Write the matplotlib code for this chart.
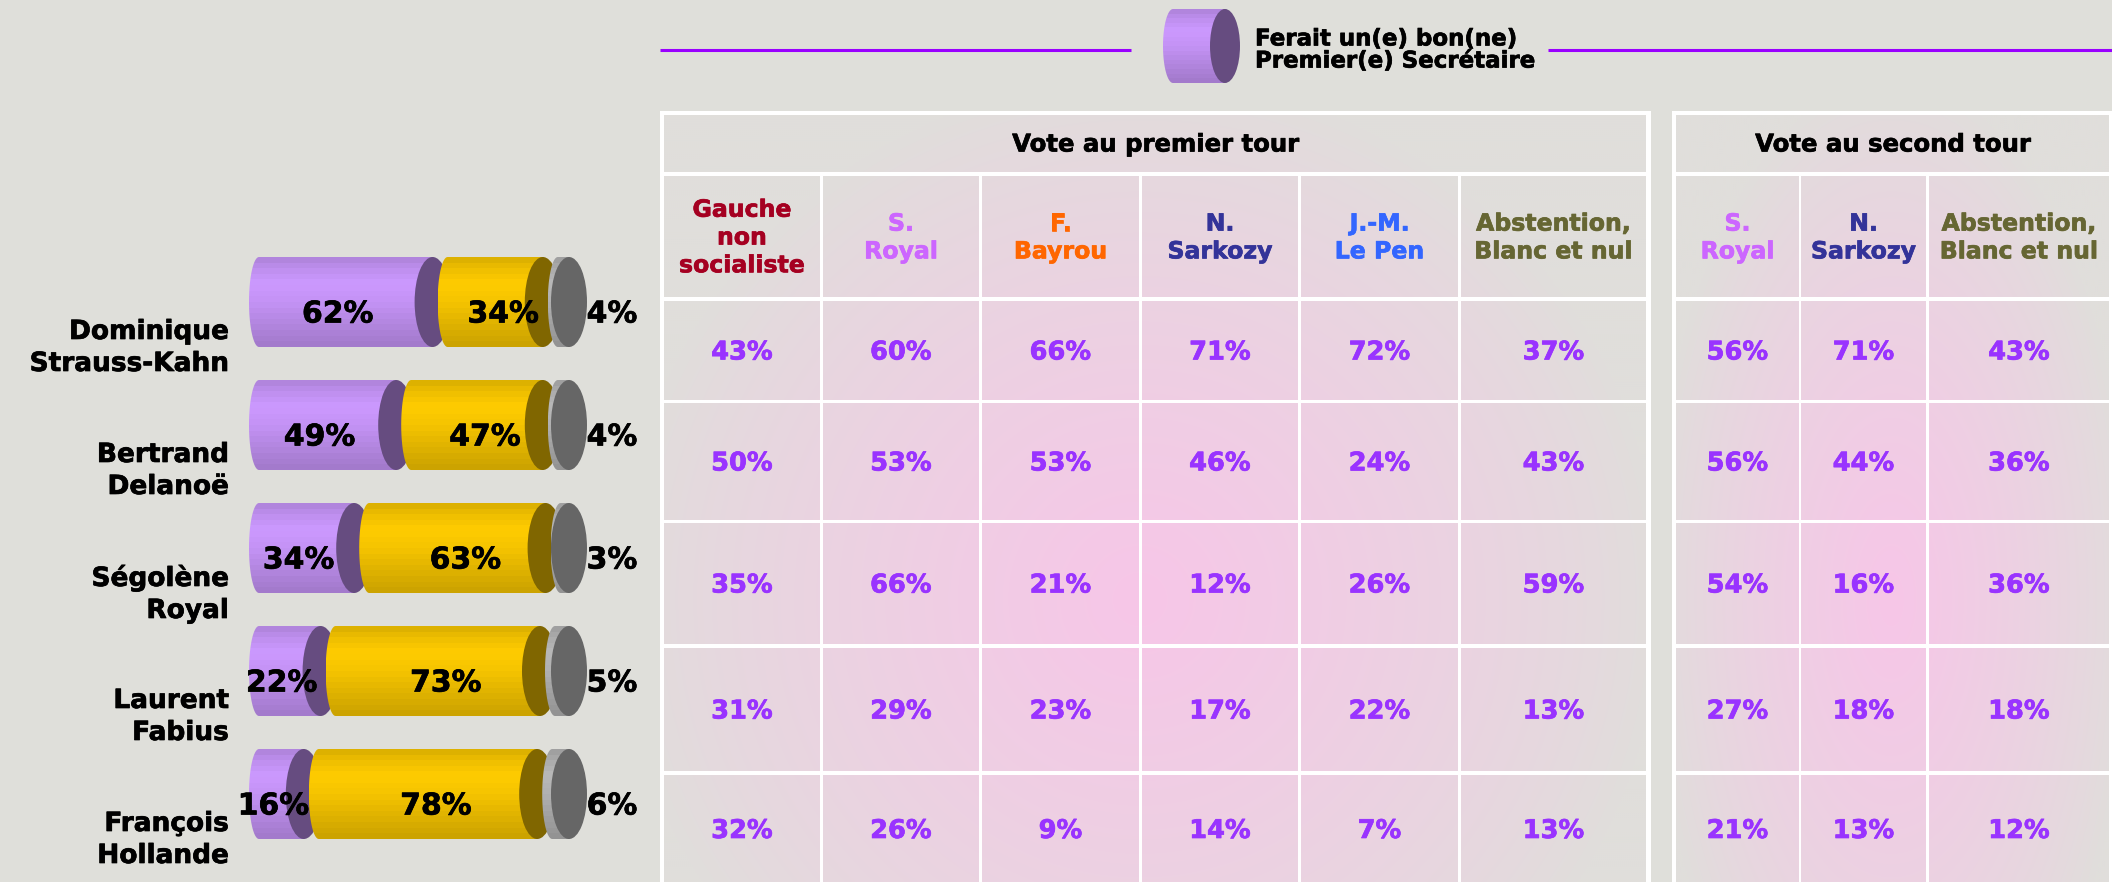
import matplotlib
matplotlib.use("Agg")
import matplotlib.pyplot as plt
import matplotlib.colors as mcolors
import matplotlib.patheffects as pe
import numpy as np
from matplotlib.patches import Ellipse, Rectangle, Polygon

# ---- data ----
names = ["Dominique\nStrauss-Kahn", "Bertrand\nDelanoë", "Ségolène\nRoyal",
         "Laurent\nFabius", "François\nHollande"]
bon = [62, 49, 34, 22, 16]        # ferait un(e) bon(ne) premier(e) secrétaire
pas_bon = [34, 47, 63, 73, 78]
nsp = [4, 4, 3, 5, 6]

legend_label = "Ferait un(e) bon(ne)\nPremier(e) Secrétaire"

tour1_title = "Vote au premier tour"
tour1_cols = ["Gauche\nnon\nsocialiste", "S.\nRoyal", "F.\nBayrou", "N.\nSarkozy",
              "J.-M.\nLe Pen", "Abstention,\nBlanc et nul"]
tour1_vals = [
    [43, 60, 66, 71, 72, 37],
    [50, 53, 53, 46, 24, 43],
    [35, 66, 21, 12, 26, 59],
    [31, 29, 23, 17, 22, 13],
    [32, 26, 9, 14, 7, 13],
]

tour2_title = "Vote au second tour"
tour2_cols = ["S.\nRoyal", "N.\nSarkozy", "Abstention,\nBlanc et nul"]
tour2_vals = [
    [56, 71, 43],
    [56, 44, 36],
    [54, 16, 36],
    [27, 18, 18],
    [21, 13, 12],
]

# ---- style ----
W, H = 2112, 882
BG = "#DFDFDA"
plt.rcParams['font.family'] = ['DejaVu Sans']
plt.rcParams['font.weight'] = 'bold'

col_colors1 = ["#A50021", "#CC66FF", "#FF6600", "#333399", "#3366FF", "#666633"]
col_colors2 = ["#CC66FF", "#333399", "#666633"]
VAL_COLOR = "#9933FF"

seg_body = ["#CC99FF", "#FFCC00", "#B8B8B8"]
seg_cap = ["#664C80", "#806600", "#666666"]

# table layout (pixels)
T1_COLS = [(664, 820), (823, 979), (982, 1139), (1142, 1298), (1301, 1458), (1461, 1646)]
T2_COLS = [(1676, 1799), (1801, 1926), (1929, 2109)]
ROWS = [(115, 172), (176, 297), (301, 400), (403, 520), (523, 644), (648, 771), (775, 900)]

fig = plt.figure(figsize=(W / 100, H / 100), dpi=100)
fig.patch.set_facecolor(BG)
ax = fig.add_axes([0, 0, 1, 1])
ax.axis("off")


def bold_text(x, y, s, color="black", **kw):
    t = ax.text(x, y, s, color=color, fontweight="bold", zorder=20, **kw)
    t.set_path_effects([pe.withStroke(linewidth=0.5, foreground=color)])
    return t


def shade(base, n=16):
    pos = np.linspace(0, 1, n)
    f = np.interp(pos, [0, 0.1, 0.28, 0.5, 0.75, 1], [0.87, 0.93, 1.0, 0.96, 0.88, 0.80])
    rgb = np.array(mcolors.to_rgb(base))
    return np.clip(f[:, None] * rgb, 0, 1)[:, None, :]


def cylinder_part(s, e, yc, h, base, cap, z, rl=10, rc=18):
    top, bot = yc - h / 2, yc + h / 2
    th = np.linspace(-np.pi / 2, np.pi / 2, 40)
    verts = list(zip(s - rl * np.cos(th), yc + h / 2 * np.sin(th))) + [(e, bot), (e, top)]
    poly = Polygon(verts, closed=True, facecolor="none", edgecolor="none", zorder=z)
    ax.add_patch(poly)
    im = ax.imshow(shade(base), extent=(s - rl, e, bot, top), origin="upper",
                   aspect="auto", interpolation="nearest", zorder=z)
    im.set_clip_path(poly)
    ax.add_patch(Ellipse((e, yc), 2 * rc, h, facecolor=cap, edgecolor="none", zorder=z + 0.5))


# ---- stacked cylinders ----
x0, k, gap, bar_h = 259, 2.8, 15, 90
for i in range(len(names)):
    yc = 302 + 123 * i
    s = x0
    for j, v in enumerate([bon[i], pas_bon[i], nsp[i]]):
        e = s + v * k
        cylinder_part(s, e, yc, bar_h, seg_body[j], seg_cap[j], z=3 + j)
        lx = (s + e) / 2 - 8 if j == 0 else ((s + e) / 2 + 8 if j == 1 else e + 43)
        bold_text(lx, yc + 12, f"{v}%", ha="center", va="center", fontsize=21.5)
        s = e + gap
    bold_text(229, 348 + 123 * i, names[i], ha="right", va="center", fontsize=19,
              linespacing=1.3)

# ---- legend ----
ax.plot([660, 1131], [50, 50], color="#9900FF", lw=2.2, solid_capstyle="butt", zorder=2)
ax.plot([1548, 2112], [50, 50], color="#9900FF", lw=2.2, solid_capstyle="butt", zorder=2)
cylinder_part(1173, 1225, 46, 74, seg_body[0], seg_cap[0], z=3, rl=10, rc=15)
bold_text(1255, 50, legend_label, ha="left", va="center", fontsize=16.5, linespacing=0.95)


# ---- tables ----
def draw_table(cols, title, headers, hcolors, vals, cx, rx, cy=600, ry=520):
    xl, xr = cols[0][0], cols[-1][1]
    ax.add_patch(Rectangle((xl - 4, 111), xr - xl + 9, H, facecolor="white",
                           edgecolor="none", zorder=0.5))
    xs = np.arange(xl, xr, 2) + 1
    ys = np.arange(ROWS[0][0], H, 2) + 1
    X, Y = np.meshgrid(xs, ys)
    r = np.sqrt(((X - cx) / rx) ** 2 + ((Y - cy) / ry) ** 2)
    t = np.clip(1 - r, 0, 1) ** 0.8
    gray = np.array(mcolors.to_rgb("#E0DEDB"))
    pink = np.array(mcolors.to_rgb("#F7C6E8"))
    img = gray + t[..., None] * (pink - gray)
    ax.imshow(img, extent=(xl, xr, H, ROWS[0][0]), origin="upper", aspect="auto",
              interpolation="bilinear", zorder=1)
    # white separators
    for (a, b), (c, d) in zip(ROWS[:-1], ROWS[1:]):
        ax.add_patch(Rectangle((xl, b), xr - xl, c - b, facecolor="white",
                               edgecolor="none", zorder=1.5))
    for (a, b), (c, d) in zip(cols[:-1], cols[1:]):
        ax.add_patch(Rectangle((b, ROWS[1][0]), c - b, H, facecolor="white",
                               edgecolor="none", zorder=1.5))
    bold_text((xl + xr) / 2, (ROWS[0][0] + ROWS[0][1]) / 2 + 1, title, ha="center",
              va="center", fontsize=17.5)
    for (a, b), lab, c in zip(cols, headers, hcolors):
        bold_text((a + b) / 2, (ROWS[1][0] + ROWS[1][1]) / 2 + 1, lab, color=c,
                  ha="center", va="center", fontsize=17)
    for ri, row in enumerate(vals):
        ya, yb = ROWS[ri + 2]
        yb = min(yb, H + 1)
        for (a, b), v in zip(cols, row):
            bold_text((a + b) / 2, (ya + yb) / 2 + 2, f"{v}%", color=VAL_COLOR,
                      ha="center", va="center", fontsize=18.5)


draw_table(T1_COLS, tour1_title, tour1_cols, col_colors1, tour1_vals, cx=1140, rx=520)
draw_table(T2_COLS, tour2_title, tour2_cols, col_colors2, tour2_vals, cx=1892, rx=240)

ax.set_xlim(0, W)
ax.set_ylim(H, 0)
fig.savefig("out.png", dpi=100, facecolor=BG)
